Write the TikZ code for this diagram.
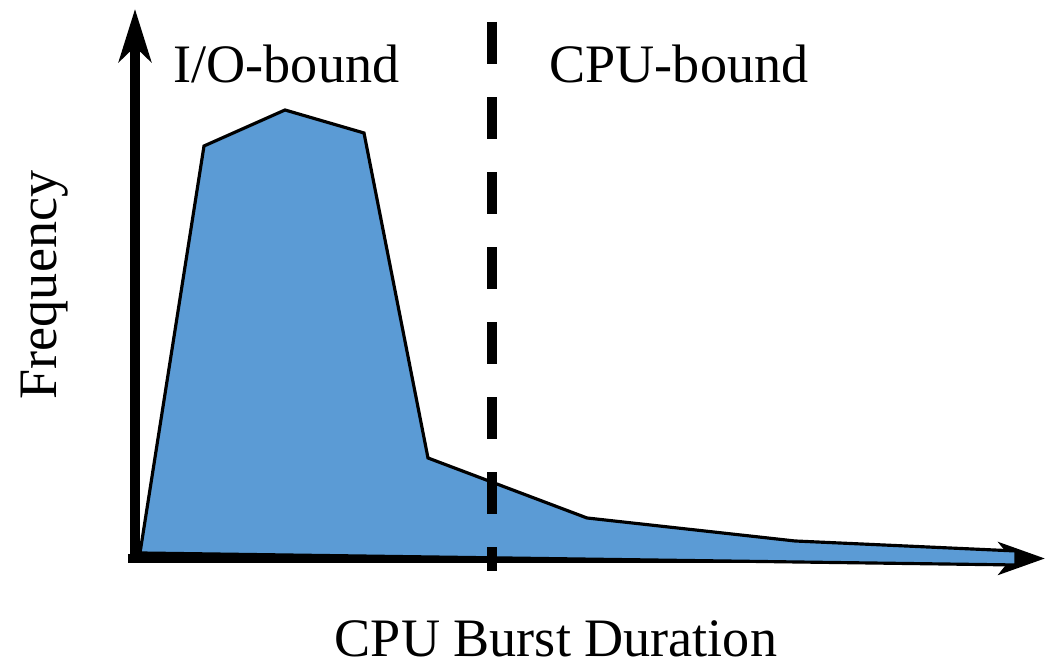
\documentclass[tikz,border=0pt]{standalone}
\usepackage{fontspec}
\setmainfont{Liberation Serif}
\usepackage{tikz}
\usetikzlibrary{arrows.meta}
\definecolor{burstblue}{HTML}{5B9BD5}
\tikzset{
  axisline/.style={line width=2.6pt,black},
  burst/.style={fill=burstblue,draw=black,line width=0.9pt},
  divider/.style={line width=2.9pt,black,dash pattern=on 11.95pt off 9.39pt},
  lbl/.style={font=\fontsize{15.4}{18}\selectfont,inner sep=0pt,anchor=base}
}

\begin{document}
\begin{tikzpicture}[x=0.01cm,y=-0.01cm]
\useasboundingbox (0,0) rectangle (1047,665);
\coordinate (origin) at (135,563);
\coordinate (ytop) at (135,9);
\coordinate (xleft) at (128,558.5);
\coordinate (xright) at (1045,558.5);
\draw[axisline,-{Stealth[length=15pt,width=9.2pt,inset=4.3pt]}] (origin) -- (ytop);
\draw[axisline,-{Stealth[length=13.2pt,width=9.2pt,inset=3.6pt]}] (xleft) -- (xright);
% burst duration curve
\filldraw[burst] (140,553) -- (204,146) -- (285,110) -- (364,133) -- (428,458)
  -- (587,518) -- (795,541) -- (1016,551) -- (1016,565) -- cycle;
\draw[divider] (492,22) -- (492,571);
\node[lbl] (io) at (286.5,83) {I/O-bound};
\node[lbl] (cpu) at (679,83) {CPU-bound};
\node[lbl,rotate=90] (freq) at (57,285) {Frequency};
\node[lbl] (dur) at (556,657) {CPU Burst Duration};
\end{tikzpicture}
\end{document}
